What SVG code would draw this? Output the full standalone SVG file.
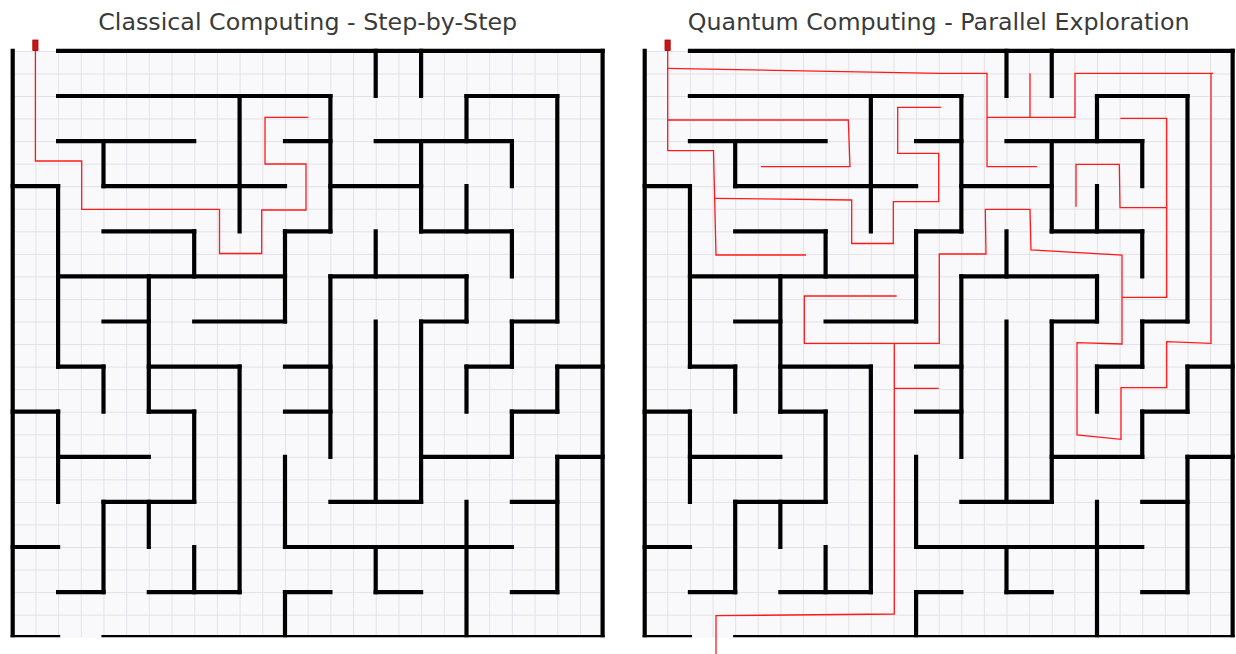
<svg xmlns="http://www.w3.org/2000/svg" xmlns:xlink="http://www.w3.org/1999/xlink" width="1236" height="654" viewBox="0 0 1236 654">
<style>
.title{font-family:"DejaVu Sans","Liberation Sans",sans-serif;font-size:23.75px;fill:#3a3a3a;text-anchor:middle}
.wall{fill:none;stroke:#000;stroke-width:4.2;stroke-linecap:square}
.grid{fill:none;stroke:#dcdce4;stroke-width:0.9}
.path{fill:none;stroke:#ff1a1a;stroke-width:1.3;stroke-linejoin:miter}
.start{fill:#c81414;stroke:#a00;stroke-width:0.8}
</style>
<defs>
<clipPath id="clipBottom"><rect x="-20" y="-60" width="640" height="646.3"/></clipPath>
<pattern id="gridPat" x="0" y="0" width="22.69" height="22.55" patternUnits="userSpaceOnUse">
<path d="M0 0.4H22.69M0.4 0V22.55" class="grid"/>
</pattern>
<g id="mazeWalls" clip-path="url(#clipBottom)">
<path class="wall" d="M45.4 0H589.9 M45.4 45.1H317.7 M453.8 45.1H544.6 M45.4 90.2H181.5 M272.3 90.2H317.7 M363 90.2H499.2 M0 135.3H45.4 M90.8 135.3H272.3 M317.7 135.3H408.4 M90.8 180.4H181.5 M272.3 180.4H317.7 M408.4 180.4H499.2 M45.4 225.5H272.3 M317.7 225.5H453.8 M90.8 270.6H136.1 M181.5 270.6H272.3 M408.4 270.6H453.8 M499.2 270.6H544.6 M45.4 315.7H90.8 M136.1 315.7H226.9 M272.3 315.7H317.7 M453.8 315.7H499.2 M544.6 315.7H589.9 M0 360.8H45.4 M136.1 360.8H181.5 M272.3 360.8H317.7 M499.2 360.8H544.6 M45.4 405.9H136.1 M408.4 405.9H499.2 M544.6 405.9H589.9 M90.8 451H181.5 M317.7 451H408.4 M499.2 451H544.6 M0 496.1H45.4 M272.3 496.1H499.2 M45.4 541.2H90.8 M136.1 541.2H226.9 M272.3 541.2H317.7 M363 541.2H408.4 M499.2 541.2H544.6 M0 586.3H45.4 M90.8 586.3H589.9"/>
<path class="wall" d="M0 0V586.3 M45.4 135.3V315.7 M45.4 360.8V451 M90.8 90.2V135.3 M90.8 315.7V360.8 M90.8 451V541.2 M136.1 225.5V360.8 M136.1 451V496.1 M181.5 180.4V225.5 M181.5 360.8V451 M181.5 496.1V541.2 M226.9 45.1V180.4 M226.9 315.7V541.2 M272.3 180.4V270.6 M272.3 405.9V496.1 M272.3 541.2V586.3 M317.7 45.1V180.4 M317.7 225.5V405.9 M363 0V45.1 M363 180.4V225.5 M363 270.6V451 M363 496.1V541.2 M408.4 0V45.1 M408.4 90.2V180.4 M408.4 270.6V451 M453.8 45.1V90.2 M453.8 135.3V180.4 M453.8 225.5V270.6 M453.8 315.7V360.8 M453.8 451V586.3 M499.2 90.2V135.3 M499.2 180.4V225.5 M499.2 270.6V315.7 M499.2 360.8V405.9 M544.6 45.1V270.6 M544.6 315.7V360.8 M544.6 405.9V541.2 M589.9 0V586.3"/>
</g>
</defs>
<rect x="0" y="0" width="1236" height="654" fill="#fff"/>
<text class="title" x="307.7" y="30">Classical Computing - Step-by-Step</text>
<text class="title" x="938.7" y="30">Quantum Computing - Parallel Exploration</text>

<g id="classical-maze">
<g transform="translate(12.7,50.9)">
<rect x="0" y="0" width="589.9" height="586.3" fill="#f9f9fb"/>
<rect x="0" y="0" width="589.9" height="586.3" fill="url(#gridPat)"/>
<use xlink:href="#mazeWalls" href="#mazeWalls"/>
</g>
<path class="path" d="M35.4 45V161H81.7V209.3H219.5V253.5H261.7V210H306V164H265V117.3H308.3"/>
<rect class="start" x="32.8" y="40" width="5.2" height="10.5"/>
</g>

<g id="quantum-maze">
<g transform="translate(644.7,50.9) scale(0.99669,1)">
<rect x="0" y="0" width="589.9" height="586.3" fill="#f9f9fb"/>
<rect x="0" y="0" width="589.9" height="586.3" fill="url(#gridPat)"/>
<use xlink:href="#mazeWalls" href="#mazeWalls"/>
</g>
<g id="quantum-paths">
<path class="path" d="M667.7 45V150.7H713.5L716 255H806"/>
<path class="path" d="M667.7 68.3L940 73.3H987V166.7H1037"/>
<path class="path" d="M987 117.3H1075V73.3H1213 M1030 117.3V73.3 M1211 73.3V343.3L1166.7 341.7V387.7H1121V439.3L1077 435V342.7L1122 344V255L1031 250L1030 209.3H985.3L986 254H939.3V343.3H804.3V296H896.7"/>
<path class="path" d="M1122 297.3H1166.7V118.3H1120.3"/>
<path class="path" d="M1076 206.7V164.3H1119.3L1120 207.7H1166.7"/>
<path class="path" d="M667.7 120H848.3L850 166.7H761"/>
<path class="path" d="M714 198.3L851.7 200V243.5H893.3V201.7H938.7V153.3H897.7V107.3H941"/>
<path class="path" d="M894.3 343.3V614L716 615.7V654"/>
<path class="path" d="M894.3 388.3H938.7"/>
</g>
<rect class="start" x="665" y="40" width="5.2" height="10.5"/>
</g>
</svg>
